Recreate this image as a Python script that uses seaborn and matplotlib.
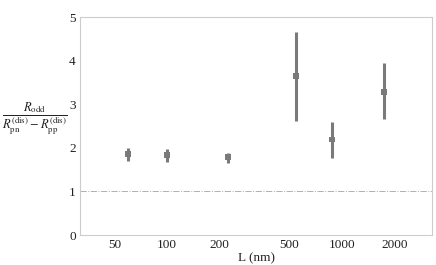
import matplotlib
matplotlib.use("Agg")
import matplotlib.pyplot as plt
import pandas as pd
import seaborn as sns

# values
length_nm = [60, 100, 222, 546, 874, 1740]
ratio = [1.85, 1.83, 1.78, 3.65, 2.19, 3.29]
err_low = [1.70, 1.68, 1.66, 2.62, 1.76, 2.65]
err_high = [1.99, 1.97, 1.89, 4.66, 2.60, 3.94]
x_ticks = [50, 100, 200, 500, 1000, 2000]
y_ticks = [0, 1, 2, 3, 4, 5]

df = pd.DataFrame({"L": length_nm, "ratio": ratio, "lo": err_low, "hi": err_high})

sns.set_theme(style="white")
plt.rcParams["font.family"] = ["Liberation Serif", "DejaVu Serif"]
plt.rcParams["mathtext.fontset"] = "stix"

fig = plt.figure(figsize=(4.36, 2.65), dpi=100)
ax = fig.add_axes([80 / 436, 30 / 265, 352 / 436, 218 / 265])

point_color = "#7a7a7a"
ax.vlines(df["L"], df["lo"], df["hi"], color=point_color, linewidth=2.2, zorder=2)
sns.scatterplot(data=df, x="L", y="ratio", marker="s", s=18, color=point_color,
                edgecolor="none", ax=ax, zorder=3)
ax.axhline(1, color="#b0b0b0", linestyle="-.", linewidth=0.7, zorder=1)

ax.set_xscale("log")
ax.set_xlim(31.8, 3260)
ax.set_ylim(0, 5)
ax.set_xticks(x_ticks)
ax.set_xticklabels([str(t) for t in x_ticks])
ax.minorticks_off()
ax.set_yticks(y_ticks)
ax.tick_params(direction="in", length=3, width=0.6, color="#bbbbbb",
               labelsize=9.5, pad=3, labelcolor="#222222")
for side in ax.spines.values():
    side.set_color("#cccccc")
    side.set_linewidth(0.8)

ax.set_xlabel("L (nm)", fontsize=9.5, labelpad=1, color="#222222")
ax.set_ylabel("")
fig.text(35 / 436, 1 - 119 / 265,
         r"$\dfrac{R_{\mathrm{odd}}}{R_{\mathrm{pn}}^{(\mathrm{dis})} - R_{\mathrm{pp}}^{(\mathrm{dis})}}$",
         ha="center", va="center", fontsize=9, color="#222222")

fig.savefig("out.png", dpi=100)
